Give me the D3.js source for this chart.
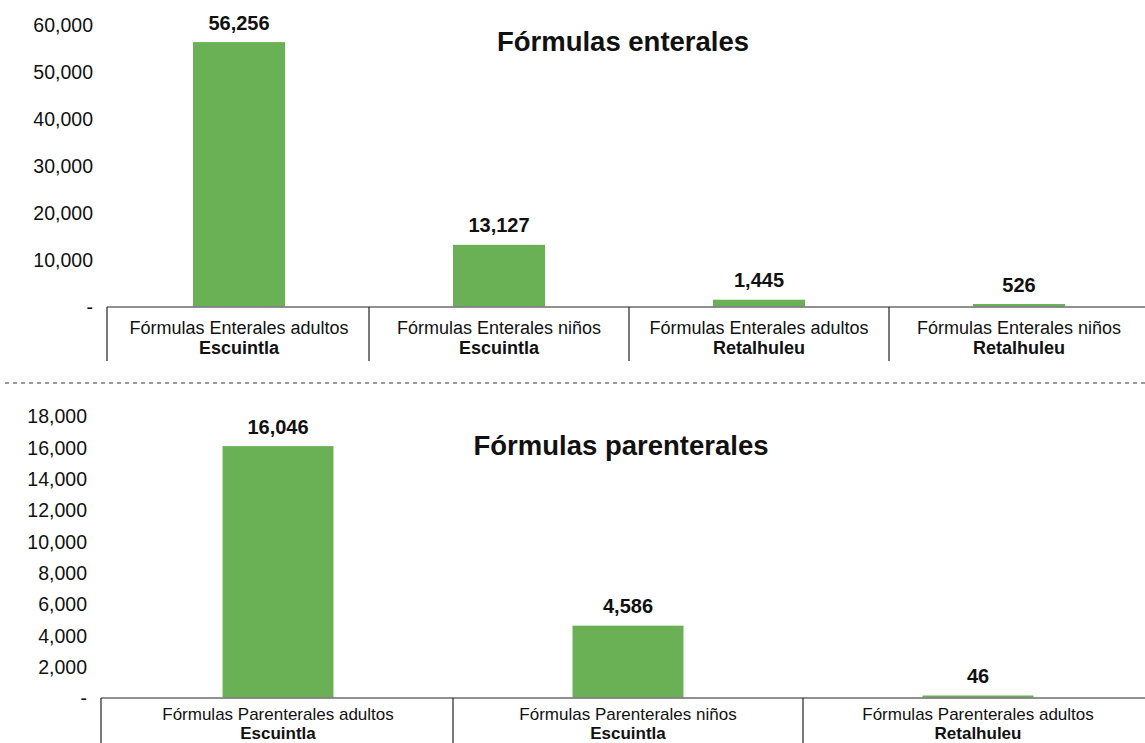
<!DOCTYPE html>
<html>
<head>
<meta charset="utf-8">
<script src="https://cdn.jsdelivr.net/npm/d3@7"></script>
<style>
  html, body { margin: 0; padding: 0; background: #fff; }
  svg { display: block; font-family: "Liberation Sans", Arial, Helvetica, sans-serif; }
</style>
</head>
<body>
<svg id="chart" width="1145" height="743"></svg>
<script>
// Enteral formulas
const enteralProducts = ["Fórmulas Enterales adultos", "Fórmulas Enterales niños", "Fórmulas Enterales adultos", "Fórmulas Enterales niños"];
const enteralSites = ["Escuintla", "Escuintla", "Retalhuleu", "Retalhuleu"];
const enteralValues = [56256, 13127, 1445, 526];
const enteralTicks = [0, 10000, 20000, 30000, 40000, 50000, 60000];

// Parenteral formulas
const parenteralProducts = ["Fórmulas Parenterales adultos", "Fórmulas Parenterales niños", "Fórmulas Parenterales adultos"];
const parenteralSites = ["Escuintla", "Escuintla", "Retalhuleu"];
const parenteralValues = [16046, 4586, 46];
const parenteralTicks = [0, 2000, 4000, 6000, 8000, 10000, 12000, 14000, 16000, 18000];

const svg = d3.select("#chart");
const fmt = d3.format(",");
const BAR_COLOR = "#6ab155";
const MIN_BAR_PX = 2; // keep tiny values visible above the baseline

function drawPanel(cfg) {
  const data = cfg.values.map((v, i) => ({ i, v, product: cfg.products[i], site: cfg.sites[i] }));
  const g = svg.append("g");

  const x = d3.scaleBand().domain(data.map(d => d.i)).range(cfg.xRange).padding(0);
  const y = d3.scaleLinear().domain([0, cfg.max]).range(cfg.yRange);
  const barW = x.bandwidth() * cfg.barFrac;
  const base = y(0);
  const barH = d => Math.max(MIN_BAR_PX, base - y(d.v));

  // value axis (labels only)
  const yAxis = d3.axisLeft(y)
    .tickValues(cfg.ticks)
    .tickSize(0)
    .tickPadding(0)
    .tickFormat(d => d === 0 ? "-" : fmt(d));
  const ya = g.append("g")
    .attr("transform", `translate(${cfg.tickX},0)`)
    .call(yAxis);
  ya.select(".domain").remove();
  ya.selectAll("text")
    .attr("font-size", 19.5)
    .attr("font-family", "Liberation Sans, Arial, sans-serif")
    .attr("fill", "#111")
    .attr("dy", "0.35em");

  // bars
  g.selectAll("rect.bar").data(data).enter().append("rect")
    .attr("class", "bar")
    .attr("x", d => x(d.i) + (x.bandwidth() - barW) / 2)
    .attr("width", barW)
    .attr("y", d => base - 0.5 - barH(d))
    .attr("height", d => barH(d))
    .attr("fill", BAR_COLOR);

  // value labels
  g.selectAll("text.val").data(data).enter().append("text")
    .attr("class", "val")
    .attr("x", d => x(d.i) + x.bandwidth() / 2)
    .attr("y", d => base - barH(d) - 13)
    .attr("text-anchor", "middle")
    .attr("font-size", 20)
    .attr("font-weight", "bold")
    .attr("fill", "#111")
    .text(d => fmt(d.v));

  // baseline
  g.append("line")
    .attr("x1", cfg.axisStart).attr("x2", 1145)
    .attr("y1", base).attr("y2", base)
    .attr("stroke", "#6b6b6b").attr("stroke-width", 1.5);

  // category separators
  const edges = data.map(d => x(d.i));
  edges[0] = cfg.axisStart;
  g.selectAll("line.sep").data(edges).enter().append("line")
    .attr("class", "sep")
    .attr("x1", d => d).attr("x2", d => d)
    .attr("y1", base).attr("y2", base + cfg.sepLen)
    .attr("stroke", "#222").attr("stroke-width", 1.2);

  // category labels
  const lab = g.selectAll("g.cat").data(data).enter().append("g")
    .attr("class", "cat")
    .attr("transform", d => `translate(${x(d.i) + x.bandwidth() / 2},${base})`);
  lab.append("text")
    .attr("y", cfg.line1)
    .attr("text-anchor", "middle")
    .attr("font-size", cfg.catSize)
    .attr("fill", "#111")
    .text(d => d.product);
  lab.append("text")
    .attr("y", cfg.line1 + cfg.lineGap)
    .attr("text-anchor", "middle")
    .attr("font-size", cfg.catSize)
    .attr("font-weight", "bold")
    .attr("fill", "#111")
    .text(d => d.site);

  // title
  g.append("text")
    .attr("x", cfg.titleX).attr("y", cfg.titleY)
    .attr("text-anchor", "middle")
    .attr("font-size", 27.5)
    .attr("font-weight", "bold")
    .attr("fill", "#111")
    .text(cfg.title);
}

drawPanel({
  title: "Fórmulas enterales", titleX: 623, titleY: 51,
  products: enteralProducts, sites: enteralSites, values: enteralValues,
  ticks: enteralTicks, max: 60000,
  xRange: [109, 1149], yRange: [307, 25], axisStart: 107,
  barFrac: 0.354, tickX: 93, sepLen: 54, line1: 27, lineGap: 20, catSize: 18
});

// dashed separator between panels
svg.append("line")
  .attr("x1", 5).attr("x2", 1145)
  .attr("y1", 383).attr("y2", 383)
  .attr("stroke", "#9a9a9a").attr("stroke-width", 2)
  .attr("stroke-dasharray", "4,4");

drawPanel({
  title: "Fórmulas parenterales", titleX: 621, titleY: 455,
  products: parenteralProducts, sites: parenteralSites, values: parenteralValues,
  ticks: parenteralTicks, max: 18000,
  xRange: [103, 1153], yRange: [698, 416], axisStart: 101,
  barFrac: 0.317, tickX: 87, sepLen: 50, line1: 22, lineGap: 19, catSize: 17
});
</script>
</body>
</html>
